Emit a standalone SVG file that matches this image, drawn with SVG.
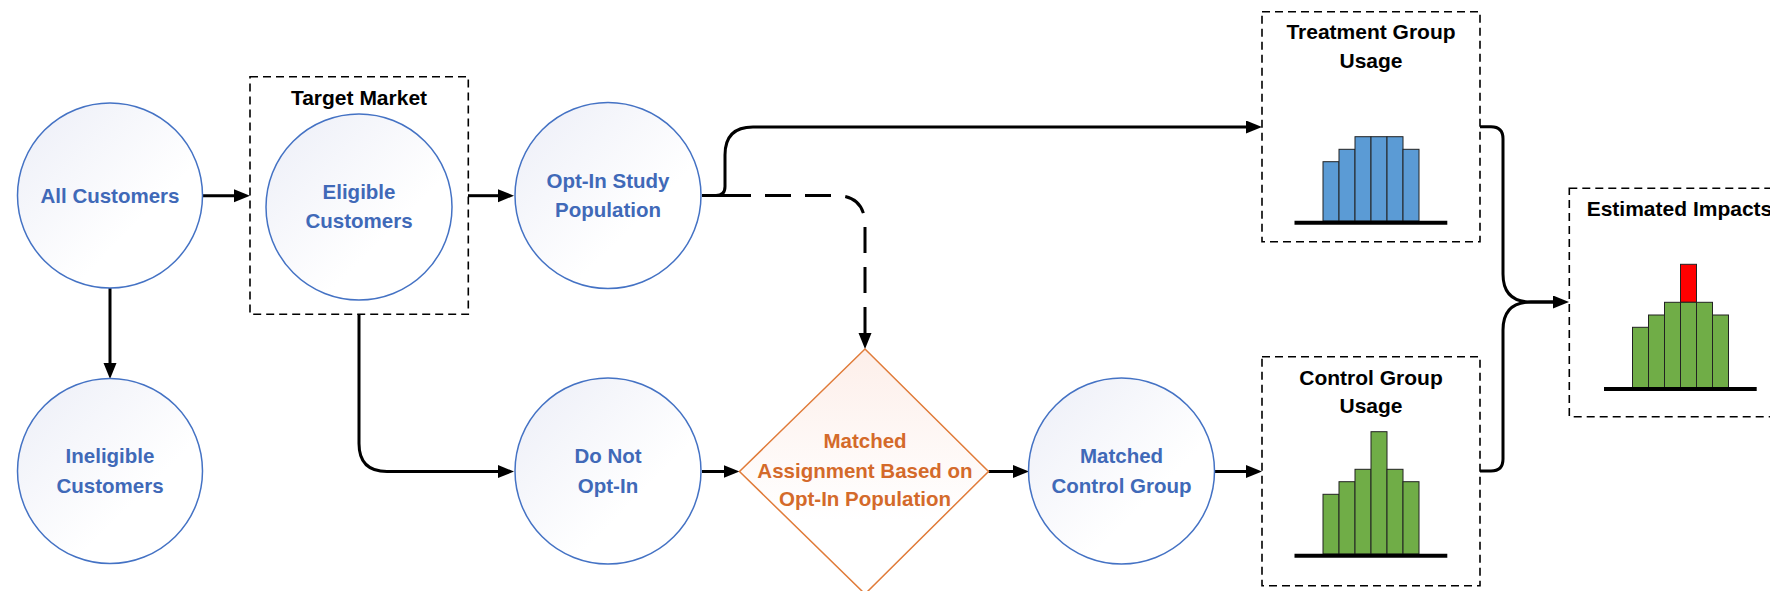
<svg xmlns="http://www.w3.org/2000/svg" width="1770" height="591" viewBox="0 0 1770 591">
<style>
.circ{fill:url(#cg);stroke:#4472C4;stroke-width:1.5}
.ct{font-family:"Liberation Sans",Arial,sans-serif;font-weight:bold;font-size:20.5px;fill:#4069B8;text-anchor:middle}
.dt{font-family:"Liberation Sans",Arial,sans-serif;font-weight:bold;font-size:20.5px;fill:#D46A2A;text-anchor:middle}
.tt{font-family:"Liberation Sans",Arial,sans-serif;font-weight:bold;font-size:21px;fill:#000;text-anchor:middle}
.box{fill:none;stroke:#000;stroke-width:1.6;stroke-dasharray:8 5}
.con{fill:none;stroke:#000;stroke-width:3}
.dash{stroke-dasharray:26 14}
.bb{fill:#5B9BD5;stroke:#222;stroke-width:1}
.gb{fill:#70AD47;stroke:#222;stroke-width:1}
.rb{fill:#FF0000;stroke:#222;stroke-width:1}
.base{stroke:#000;stroke-width:4}
</style>
<defs>
<linearGradient id="cg" x1="0" y1="0" x2="1" y2="1">
<stop offset="0" stop-color="#ECEEF7"/>
<stop offset="0.65" stop-color="#FFFFFF"/>
</linearGradient>
<linearGradient id="dg" x1="0" y1="0" x2="0" y2="1">
<stop offset="0" stop-color="#FDEFEA"/>
<stop offset="0.7" stop-color="#FFFFFF"/>
</linearGradient>
<marker id="ah" markerUnits="userSpaceOnUse" markerWidth="16" markerHeight="14" refX="2" refY="6.5" orient="auto">
<path d="M0,0 L16,6.5 L0,13 z" fill="#000"/>
</marker>
</defs>
<g id="connectors">
<path class="con" d="M203,195.7 H236" marker-end="url(#ah)"/>
<path class="con" d="M468,195.7 H500" marker-end="url(#ah)"/>
<path class="con" d="M110,288 V365" marker-end="url(#ah)"/>
<path class="con" d="M359,314 V443.5 Q359,471.5 387,471.5 H500" marker-end="url(#ah)"/>
<path class="con" d="M702,195.5 H716 Q725,195.5 725,186.5 V155 Q725,127 753,127 H1248" marker-end="url(#ah)"/>
<path class="con dash" d="M725,195.5 H835 Q865,195.5 865,225.5 V335" marker-end="url(#ah)"/>
<path class="con" d="M702,195.5 H725"/>
<path class="con" d="M702,471.5 H725.5" marker-end="url(#ah)"/>
<path class="con" d="M988.5,471.5 H1015" marker-end="url(#ah)"/>
<path class="con" d="M1214,471.5 H1248" marker-end="url(#ah)"/>
<path class="con" d="M1480,126.7 H1491 Q1503,126.7 1503,138.7 V274 Q1503,302 1531,302 H1555" marker-end="url(#ah)"/>
<path class="con" d="M1480,471 H1491 Q1503,471 1503,459 V330 Q1503,302 1531,302 H1555"/>
</g>
<g id="all-customers">
<circle class="circ" cx="110" cy="195.5" r="92.5"/>
<text class="ct" x="110" y="202.7">All Customers</text>
</g>
<g id="target-market">
<rect class="box" x="250" y="76.7" width="218.3" height="237.6"/>
<text class="tt" x="359" y="105">Target Market</text>
</g>
<g id="eligible-customers">
<circle class="circ" cx="359" cy="207" r="93"/>
<text class="ct" x="359" y="199.3">Eligible</text>
<text class="ct" x="359" y="228.3">Customers</text>
</g>
<g id="opt-in-study">
<circle class="circ" cx="608" cy="195.5" r="93"/>
<text class="ct" x="608" y="188.3">Opt-In Study</text>
<text class="ct" x="608" y="216.5">Population</text>
</g>
<g id="ineligible-customers">
<circle class="circ" cx="110" cy="471" r="92.5"/>
<text class="ct" x="110" y="463.3">Ineligible</text>
<text class="ct" x="110" y="492.7">Customers</text>
</g>
<g id="do-not-opt-in">
<circle class="circ" cx="608" cy="471" r="93"/>
<text class="ct" x="608" y="463.3">Do Not</text>
<text class="ct" x="608" y="492.7">Opt-In</text>
</g>
<g id="matched-assignment">
<path d="M865,349 L988.5,471.5 L865,594 L739.5,471.5 Z" fill="url(#dg)" stroke="#E07B39" stroke-width="1.5"/>
<text class="dt" x="865" y="448.3">Matched</text>
<text class="dt" x="865" y="477.7">Assignment Based on</text>
<text class="dt" x="865" y="505.7">Opt-In Population</text>
</g>
<g id="matched-control-group">
<circle class="circ" cx="1121.5" cy="471" r="93"/>
<text class="ct" x="1121.5" y="463.3">Matched</text>
<text class="ct" x="1121.5" y="492.7">Control Group</text>
</g>
<g id="treatment-group-usage">
<rect class="box" x="1262" y="11.7" width="218" height="230"/>
<text class="tt" x="1371" y="39.3">Treatment Group</text>
<text class="tt" x="1371" y="68.3">Usage</text>
<rect class="bb" x="1323" y="161.7" width="16" height="59.3"/>
<rect class="bb" x="1339" y="149.3" width="16" height="71.7"/>
<rect class="bb" x="1355" y="136.7" width="16" height="84.3"/>
<rect class="bb" x="1371" y="136.7" width="16" height="84.3"/>
<rect class="bb" x="1387" y="136.7" width="16" height="84.3"/>
<rect class="bb" x="1403" y="149.3" width="16" height="71.7"/>
<line class="base" x1="1294.5" y1="222.7" x2="1447.3" y2="222.7"/>
</g>
<g id="control-group-usage">
<rect class="box" x="1262" y="356.7" width="218" height="229"/>
<text class="tt" x="1371" y="385">Control Group</text>
<text class="tt" x="1371" y="412.7">Usage</text>
<rect class="gb" x="1323" y="494.3" width="16" height="59.7"/>
<rect class="gb" x="1339" y="481.7" width="16" height="72.3"/>
<rect class="gb" x="1355" y="469.3" width="16" height="84.7"/>
<rect class="gb" x="1371" y="431.7" width="16" height="122.3"/>
<rect class="gb" x="1387" y="469.3" width="16" height="84.7"/>
<rect class="gb" x="1403" y="481.7" width="16" height="72.3"/>
<line class="base" x1="1294.5" y1="555.7" x2="1447.3" y2="555.7"/>
</g>
<g id="estimated-impacts">
<rect class="box" x="1569.3" y="188.3" width="230" height="228.4"/>
<text class="tt" x="1586.7" y="215.7" style="text-anchor:start">Estimated Impacts</text>
<rect class="rb" x="1680.5" y="264.3" width="16" height="38"/>
<rect class="gb" x="1632.5" y="327.3" width="16" height="60.2"/>
<rect class="gb" x="1648.5" y="315" width="16" height="72.5"/>
<rect class="gb" x="1664.5" y="302.3" width="16" height="85.2"/>
<rect class="gb" x="1680.5" y="302.3" width="16" height="85.2"/>
<rect class="gb" x="1696.5" y="302.3" width="16" height="85.2"/>
<rect class="gb" x="1712.5" y="315" width="16" height="72.5"/>
<line class="base" x1="1604" y1="389" x2="1756.7" y2="389"/>
</g>
</svg>
